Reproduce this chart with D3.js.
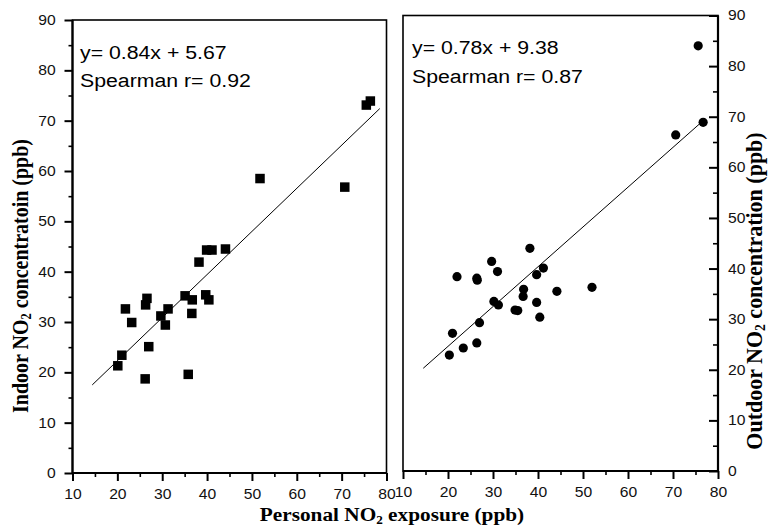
<!DOCTYPE html>
<html>
<head>
<meta charset="utf-8">
<script src="https://cdn.jsdelivr.net/npm/d3@7"></script>
<style>
  body { margin: 0; background: #fff; }
  svg { display: block; }
</style>
</head>
<body>
<svg id="chart" width="768" height="528"></svg>
<script>
// ---- data ----
const xTicks = [10, 20, 30, 40, 50, 60, 70, 80];
const yTicks = [0, 10, 20, 30, 40, 50, 60, 70, 80, 90];

// Left panel: personal vs indoor NO2 (squares)
const indoorX = [20.1, 21.0, 21.8, 23.2, 26.3, 26.6, 27.0, 26.2, 29.7, 30.7, 31.3, 35.1, 35.8, 36.7, 36.6, 38.2, 39.7, 40.4, 39.9, 41.1, 44.1, 51.8, 70.7, 75.5, 76.4];
const indoorY = [21.3, 23.4, 32.6, 29.9, 33.4, 34.7, 25.1, 18.7, 31.2, 29.4, 32.6, 35.2, 19.6, 34.4, 31.7, 41.9, 35.4, 34.4, 44.3, 44.3, 44.5, 58.5, 56.8, 73.1, 73.9];
const indoorFit = [[14.4, 17.5], [78.5, 72.4]];
const indoorText = ["y= 0.84x + 5.67", "Spearman r= 0.92"];

// Right panel: personal vs outdoor NO2 (circles)
const outdoorX = [75.6, 76.7, 70.6, 38.2, 29.7, 22.0, 26.4, 26.5, 31.0, 41.2, 39.7, 36.8, 36.7, 44.2, 52.0, 30.2, 31.2, 34.9, 35.5, 39.7, 40.4, 27.0, 21.0, 20.3, 23.4, 26.4];
const outdoorY = [84.0, 68.9, 66.4, 44.0, 41.4, 38.4, 38.1, 37.7, 39.4, 40.1, 38.8, 35.9, 34.5, 35.5, 36.3, 33.5, 32.8, 31.8, 31.7, 33.3, 30.4, 29.3, 27.2, 22.9, 24.3, 25.3];
const outdoorFit = [[14.5, 20.3], [76.3, 68.9]];
const outdoorText = ["y= 0.78x + 9.38", "Spearman r= 0.87"];

// ---- drawing ----
const svg = d3.select("#chart");
const SX = 1.12; // horizontal stretch of the scanned figure's text
const tickFont = "'Liberation Sans', Arial, sans-serif";
const labelFont = "'Liberation Serif', 'Times New Roman', serif";

const xL = d3.scaleLinear().domain([10, 80]).range([72.5, 386.5]);
const yL = d3.scaleLinear().domain([0, 90]).range([473, 20]);
const xR = d3.scaleLinear().domain([10, 80]).range([403, 718]);
const yR = d3.scaleLinear().domain([0, 90]).range([471, 15.5]);

const minorX = d3.range(15, 80, 10);
const minorY = d3.range(5, 90, 10);

function styleAxis(g, width) {
  g.select(".domain").remove();
  g.selectAll("line").attr("stroke", "#000").attr("stroke-width", width);
  g.selectAll("text")
    .attr("font-family", tickFont)
    .attr("font-size", 14)
    .attr("fill", "#111")
    .attr("transform", `scale(${SX},1)`);
}

function frame(x, y) {
  svg.append("rect")
    .attr("x", x.range()[0]).attr("y", y.range()[1])
    .attr("width", x.range()[1] - x.range()[0])
    .attr("height", y.range()[0] - y.range()[1])
    .attr("fill", "none").attr("stroke", "#000").attr("stroke-width", 1.6);
}

// Left panel
frame(xL, yL);
svg.append("g").attr("transform", `translate(0,${yL(0)})`)
  .call(d3.axisBottom(xL).tickValues(xTicks).tickSize(8).tickPadding(8).tickFormat(d3.format("d")))
  .call(g => styleAxis(g, 2));
svg.append("g").attr("transform", `translate(0,${yL(0)})`)
  .call(d3.axisBottom(xL).tickValues(minorX).tickSize(4).tickFormat(""))
  .call(g => styleAxis(g, 1.6));
svg.append("g").attr("transform", `translate(${xL(10)},0)`)
  .call(d3.axisLeft(yL).tickValues(yTicks).tickSize(8).tickPadding(7).tickFormat(d3.format("d")))
  .call(g => styleAxis(g, 2));
svg.append("g").attr("transform", `translate(${xL(10)},0)`)
  .call(d3.axisLeft(yL).tickValues(minorY).tickSize(4).tickFormat(""))
  .call(g => styleAxis(g, 1.6));
svg.append("line").attr("x1", xL(10)).attr("x2", xL(10)).attr("y1", yL(90)).attr("y2", yL(0)).attr("stroke", "#000").attr("stroke-width", 2.2);
svg.append("line").attr("x1", xL(10)).attr("x2", xL(80)).attr("y1", yL(0)).attr("y2", yL(0)).attr("stroke", "#000").attr("stroke-width", 2.2);

svg.append("line")
  .attr("x1", xL(indoorFit[0][0])).attr("y1", yL(indoorFit[0][1]))
  .attr("x2", xL(indoorFit[1][0])).attr("y2", yL(indoorFit[1][1]))
  .attr("stroke", "#000").attr("stroke-width", 1);

const sq = 9.5;
svg.append("g").selectAll("rect").data(indoorX.map((x, i) => [x, indoorY[i]])).join("rect")
  .attr("x", d => xL(d[0]) - sq / 2).attr("y", d => yL(d[1]) - sq / 2)
  .attr("width", sq).attr("height", sq).attr("fill", "#000");

// Right panel
frame(xR, yR);
svg.append("g").attr("transform", `translate(0,${yR(0)})`)
  .call(d3.axisBottom(xR).tickValues(xTicks).tickSize(8).tickPadding(8).tickFormat(d3.format("d")))
  .call(g => styleAxis(g, 2));
svg.append("g").attr("transform", `translate(0,${yR(0)})`)
  .call(d3.axisBottom(xR).tickValues(minorX).tickSize(4).tickFormat(""))
  .call(g => styleAxis(g, 1.6));
svg.append("g").attr("transform", `translate(${xR(80)},0)`)
  .call(d3.axisRight(yR).tickValues(yTicks).tickSize(-9).tickPadding(9).tickFormat(d3.format("d")))
  .call(g => styleAxis(g, 2));
svg.append("g").attr("transform", `translate(${xR(80)},0)`)
  .call(d3.axisRight(yR).tickValues(minorY).tickSize(-5).tickFormat(""))
  .call(g => styleAxis(g, 1.6));
svg.append("line").attr("x1", xR(80)).attr("x2", xR(80)).attr("y1", yR(90)).attr("y2", yR(0)).attr("stroke", "#000").attr("stroke-width", 2.2);
svg.append("line").attr("x1", xR(10)).attr("x2", xR(80)).attr("y1", yR(0)).attr("y2", yR(0)).attr("stroke", "#000").attr("stroke-width", 2.2);

svg.append("line")
  .attr("x1", xR(outdoorFit[0][0])).attr("y1", yR(outdoorFit[0][1]))
  .attr("x2", xR(outdoorFit[1][0])).attr("y2", yR(outdoorFit[1][1]))
  .attr("stroke", "#000").attr("stroke-width", 1);

svg.append("g").selectAll("circle").data(outdoorX.map((x, i) => [x, outdoorY[i]])).join("circle")
  .attr("cx", d => xR(d[0])).attr("cy", d => yR(d[1])).attr("r", 4.6).attr("fill", "#000");

// Annotations
function annot(x, y, str) {
  svg.append("text")
    .attr("transform", `translate(${x},${y}) scale(${SX},1)`)
    .attr("font-family", tickFont).attr("font-size", 19).attr("fill", "#000")
    .text(str);
}
annot(80, 59, indoorText[0]);
annot(80, 87, indoorText[1]);
annot(412, 54, outdoorText[0]);
annot(412, 83, outdoorText[1]);

// Axis titles (bold serif, subscript 2)
function title(transform, size, parts) {
  const t = svg.append("text")
    .attr("transform", transform)
    .attr("font-family", labelFont).attr("font-weight", "bold")
    .attr("font-size", size).attr("fill", "#000")
    .attr("text-anchor", "middle");
  parts.forEach(p => {
    const s = t.append("tspan").text(p[0]);
    if (p[1]) s.attr("font-size", size * 0.62).attr("baseline-shift", "-0.25em");
  });
}
title(`translate(392,521) scale(${SX},1)`, 19, [["Personal NO"], ["2", true], [" exposure (ppb)"]]);
title(`translate(28,276) scale(${SX},1) rotate(-90)`, 20, [["Indoor NO"], ["2", true], [" concentratoin  (ppb)"]]);
title(`translate(762,291) scale(1.05,1) rotate(-90)`, 22, [["Outdoor NO"], ["2", true], [" concentration (ppb)"]]);
</script>
</body>
</html>
